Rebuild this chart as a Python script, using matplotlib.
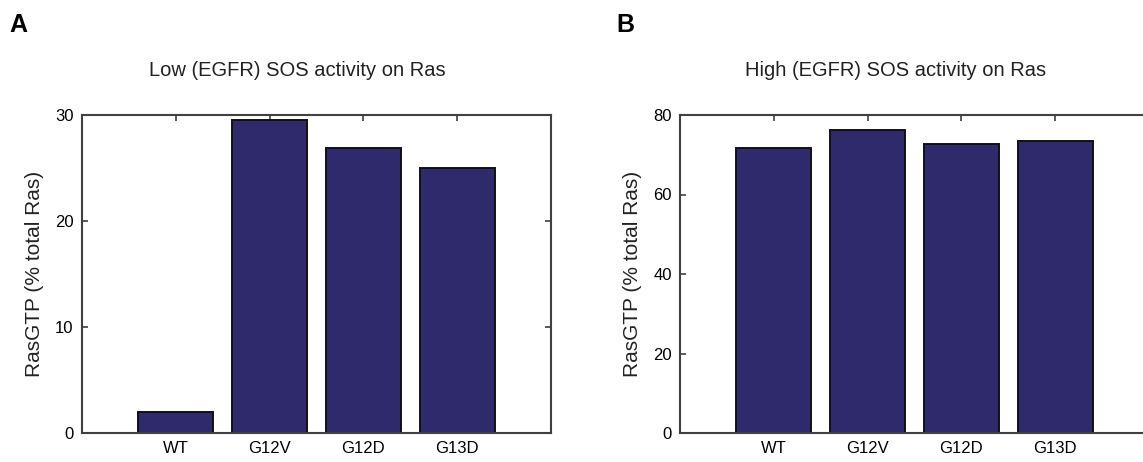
import matplotlib.pyplot as plt

plt.rcParams['font.family'] = ['Liberation Sans', 'DejaVu Sans']

mutants = ['WT', 'G12V', 'G12D', 'G13D']
low_sos = [2.0, 29.5, 26.9, 25.0]
high_sos = [71.8, 76.3, 72.8, 73.5]

bar_colour = '#2f2a6c'
axis_colour = '#404040'

fig = plt.figure(figsize=(11.43, 4.62), dpi=100)

panels = [
    ('A', 'Low (EGFR) SOS activity on Ras', low_sos, 30, [0, 10, 20, 30], 82, 9),
    ('B', 'High (EGFR) SOS activity on Ras', high_sos, 80, [0, 20, 40, 60, 80], 680, 616),
]

for letter, title, vals, ymax, yticks, left_px, letter_px in panels:
    ax = fig.add_axes([left_px / 1143, 29 / 462, 469 / 1143, 318 / 462])
    pos = range(1, len(mutants) + 1)
    ax.bar(pos, vals, width=0.8, color=bar_colour, edgecolor='#111111', linewidth=1.4, zorder=2)
    ax.set_xlim(0, 5)
    ax.set_ylim(0, ymax)
    ax.set_xticks(list(pos))
    ax.set_xticklabels(mutants)
    ax.set_yticks(yticks)
    ax.tick_params(direction='in', top=True, right=True, length=4, width=1.2,
                   color=axis_colour, labelsize=12, pad=6)
    for s in ax.spines.values():
        s.set_color(axis_colour)
        s.set_linewidth(1.5)
    ax.set_ylabel('RasGTP (% total Ras)', fontsize=15, labelpad=8, color='#222222')
    ax.set_title(title, fontsize=14.5, pad=28, color='#222222', x=0.46)
    fig.text(letter_px / 1143, 1 - 25 / 462, letter, fontsize=18, fontweight='bold',
             va='center', ha='left')

fig.savefig('out.png', dpi=100)
